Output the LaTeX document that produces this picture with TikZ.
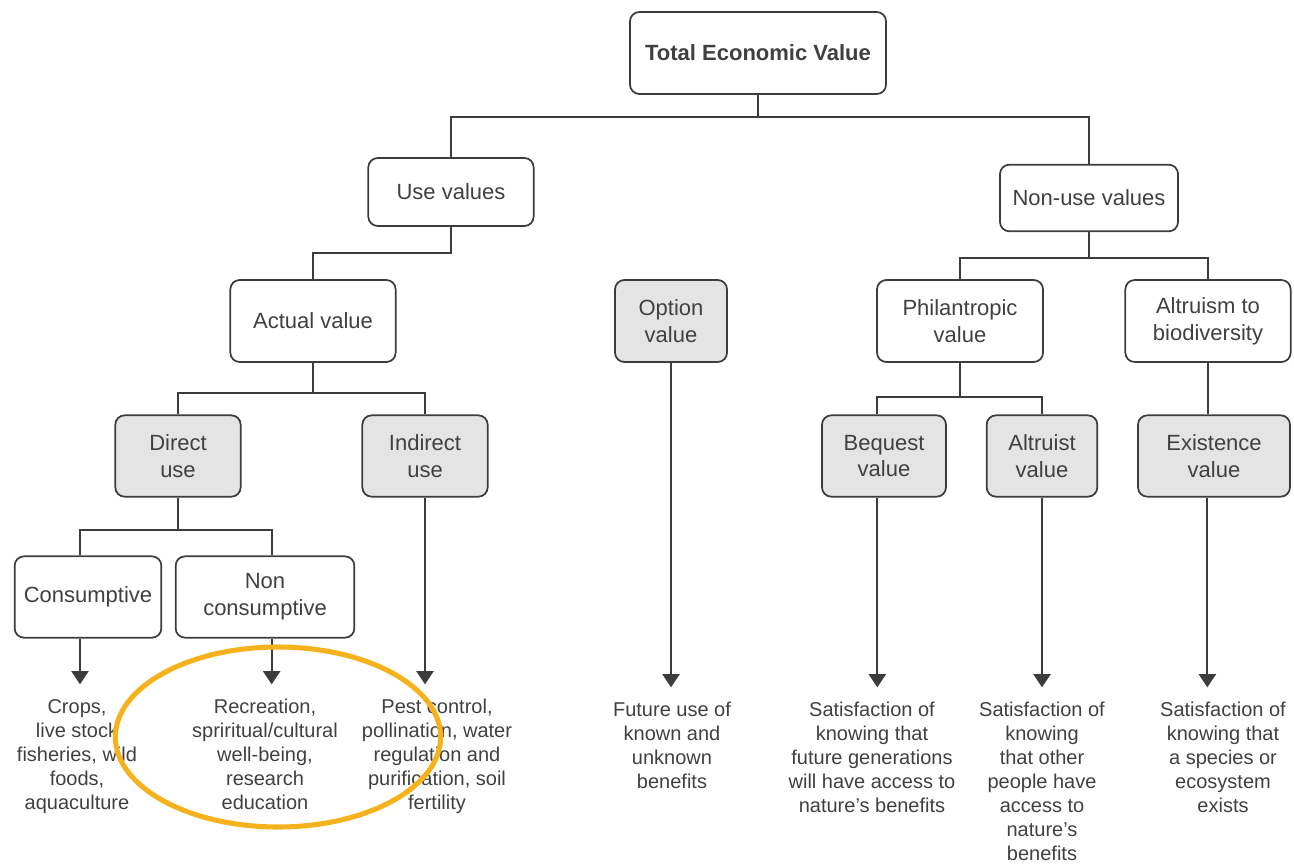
\documentclass[tikz,border=0pt]{standalone}
\usepackage{fontspec}
\setmainfont{Liberation Sans}
\usetikzlibrary{arrows.meta}
\definecolor{linegray}{HTML}{3C3C3C}
\definecolor{boxgray}{HTML}{E4E4E4}
\definecolor{txtgray}{HTML}{404040}
\definecolor{ringorange}{HTML}{F6B21C}

\begin{document}
\begin{tikzpicture}
[
x=0.75pt, y=-0.75pt,
box/.style={draw=linegray, line width=1.3pt, rounded corners=7pt, align=center, text=txtgray, inner sep=2pt, font=\fontsize{16.5}{20}\selectfont},
grey/.style={box, fill=boxgray},
leaf/.style={anchor=north, align=center, inner sep=0pt, text=txtgray, font=\fontsize{15}{18}\selectfont},
link/.style={draw=linegray, line width=1.4pt},
arr/.style={link, -{Triangle[width=13pt,length=10pt]}, shorten >=11pt}
]
\useasboundingbox (0,0) rectangle (1294,863);

\node[box, minimum width=192pt, minimum height=61.5pt, font=\bfseries\fontsize{16.5}{20}\selectfont] (tev) at (758,53) {Total Economic Value};

\node[box, minimum width=124pt, minimum height=51pt] (use) at (451,192) {Use values};
\node[box, minimum width=133.5pt, minimum height=50pt] (nonuse) at (1089,198) {Non-use values};

\node[box, minimum width=124pt, minimum height=61.5pt] (actual) at (313,321) {Actual value};
\node[grey, minimum width=84pt, minimum height=61.5pt] (option) at (671,321) {Option\\value};
\node[box, minimum width=124.5pt, minimum height=61.5pt] (phil) at (960,321) {Philantropic\\value};
\node[box, minimum width=124pt, minimum height=61.5pt] (altru) at (1208,321) {Altruism to\\biodiversity};

\node[grey, minimum width=94pt, minimum height=61pt] (direct) at (178,456) {Direct\\use};
\node[grey, minimum width=94pt, minimum height=61pt] (indirect) at (425,456) {Indirect\\use};
\node[grey, minimum width=93pt, minimum height=61pt] (bequest) at (884,456) {Bequest\\value};
\node[grey, minimum width=83pt, minimum height=61pt] (altruist) at (1042,456) {Altruist\\value};
\node[grey, minimum width=114pt, minimum height=61pt] (exist) at (1214,456) {Existence\\value};

\node[box, minimum width=110pt, minimum height=61pt] (consump) at (88,597) {Consumptive};
\node[box, minimum width=134pt, minimum height=61pt] (noncons) at (265,597) {Non\\consumptive};

\node[leaf] (crops) at (77,699) {Crops,\\live stock\\fisheries, wild\\foods,\\aquaculture};
\node[leaf] (recre) at (265,699) {Recreation,\\spriritual/cultural\\well-being,\\research\\education};
\node[leaf] (pest) at (437,699) {Pest control,\\pollination, water\\regulation and\\purification, soil\\fertility};
\node[leaf] (future) at (672,702) {Future use of\\known and\\unknown\\benefits};
\node[leaf] (satbeq) at (872,702) {Satisfaction of\\knowing that\\future generations\\will have access to\\nature's benefits};
\node[leaf] (satalt) at (1042,702) {Satisfaction of\\knowing\\that other\\people have\\access to\\nature's\\benefits};
\node[leaf] (satexi) at (1223,702) {Satisfaction of\\knowing that\\a species or\\ecosystem\\exists};

\coordinate (j0) at (758,117);
\coordinate (j1) at (451,253);
\coordinate (j2) at (1089,258);
\coordinate (j3) at (313,393);
\coordinate (j4) at (960,397);
\coordinate (j5) at (178,530);

\draw[link] (tev.south) -- (j0);
\draw[link] (use.north) |- (j0) -| (nonuse.north);
\draw[link] (use.south) -- (j1) -| (actual.north);
\draw[link] (nonuse.south) -- (j2);
\draw[link] (phil.north) |- (j2) -| (altru.north);
\draw[link] (actual.south) -- (j3);
\draw[link] (direct.north) |- (j3) -| (indirect.north);
\draw[link] (phil.south) -- (j4);
\draw[link] ([xshift=-5pt]bequest.north) |- (j4) -| (altruist.north);
\draw[link] (altru.south) -- (altru.south |- exist.north);
\draw[link] (direct.south) -- (j5);
\draw[link] ([xshift=-6pt]consump.north) |- (j5) -| ([xshift=5pt]noncons.north);

\draw[arr] ([xshift=-6pt]consump.south) -- ([xshift=-6pt]consump.south |- crops.north);
\draw[arr] ([xshift=5pt]noncons.south) -- ([xshift=5pt]noncons.south |- recre.north);
\draw[arr] (indirect.south) -- (indirect.south |- pest.north);
\draw[arr] (option.south) -- (option.south |- future.north);
\draw[arr] ([xshift=-5pt]bequest.south) -- ([xshift=-5pt]bequest.south |- satbeq.north);
\draw[arr] (altruist.south) -- (altruist.south |- satalt.north);
\draw[arr] ([xshift=-5pt]exist.south) -- ([xshift=-5pt]exist.south |- satexi.north);

\draw[ringorange, line width=3.8pt] (278,737) ellipse [x radius=122pt, y radius=67.5pt];
\end{tikzpicture}
\end{document}
